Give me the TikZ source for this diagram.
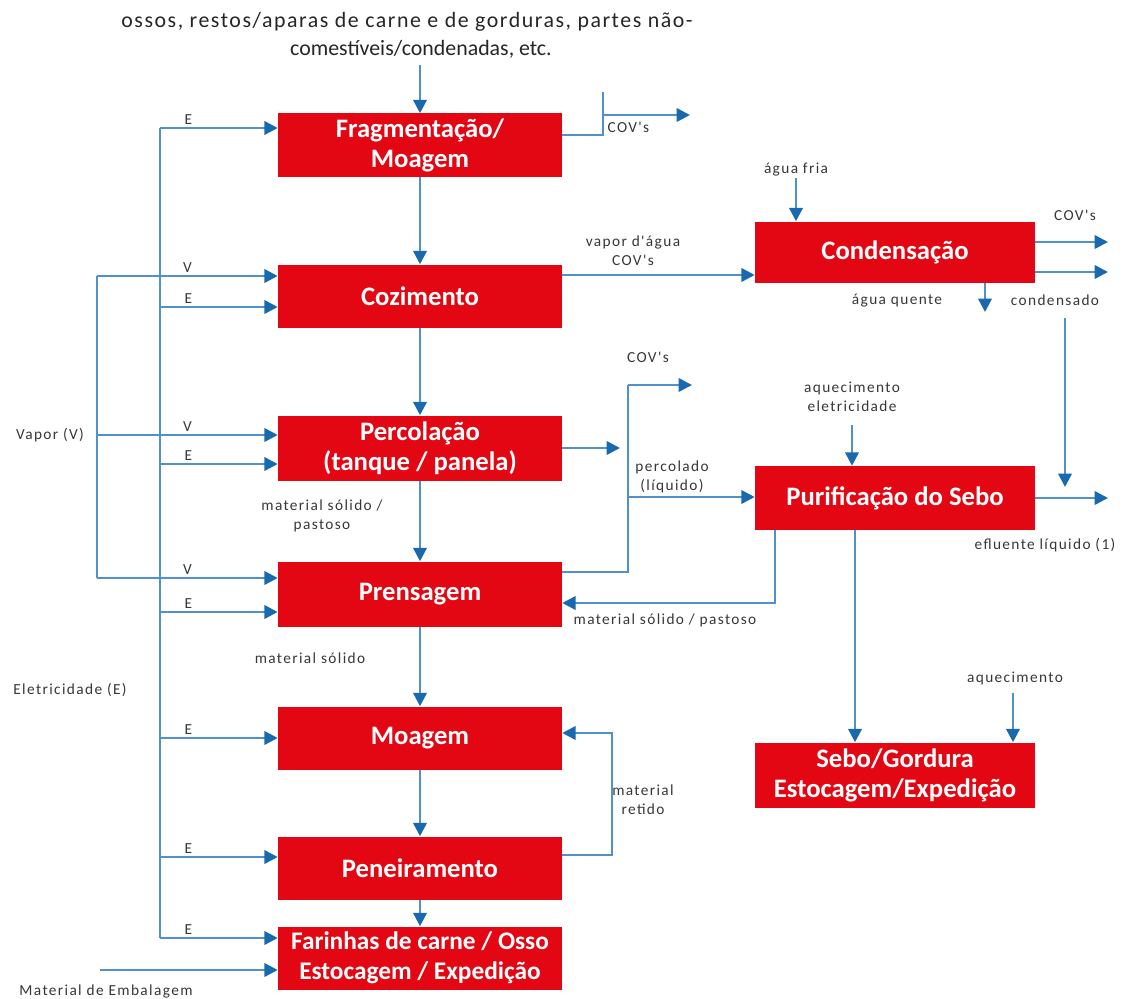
\documentclass[tikz,border=0pt]{standalone}
\usepackage{fontspec}
\setmainfont{Carlito}
\newfontfamily\lblfont[LetterSpace=9]{Carlito}
\newfontfamily\topwide[LetterSpace=7]{Carlito}
\usetikzlibrary{arrows.meta}
\definecolor{boxred}{RGB}{227,6,19}
\definecolor{linkblue}{RGB}{80,145,205}
\definecolor{tipblue}{RGB}{25,105,175}
\definecolor{labelgray}{RGB}{55,55,55}
\tikzset{
 proc/.style={fill=boxred, text=white, font=\fontsize{20}{22.5}\selectfont\bfseries, minimum width=213pt, minimum height=47.25pt, inner sep=0pt, align=center},
 flow/.style={draw=linkblue, line width=1.9pt, -{Triangle[length=10pt,width=10pt,color=tipblue]}},
 wire/.style={draw=linkblue, line width=1.9pt},
 lbl/.style={font=\lblfont\fontsize{11.5}{14}\selectfont, text=labelgray, inner sep=1pt, align=center},
 toptxt/.style={font=\fontsize{16.4}{21}\selectfont, text=black!85, inner sep=0pt, align=center},
}
\begin{document}
\begin{tikzpicture}[x=0.75pt,y=-0.75pt]
\fill[white] (0,0) rectangle (1125,999);
\useasboundingbox (0,0) rectangle (1125,999);

% process boxes
\node[proc] (frag) at (420,145) {Fragmentação/\\Moagem};
\node[proc] (coz) at (420,296) {Cozimento};
\node[proc, minimum height=48.75pt] (perc) at (420,448) {Percolação\\(tanque / panela)};
\node[proc, minimum height=48.75pt] (prens) at (420,594) {Prensagem};
\node[proc] (moag) at (420,738) {Moagem};
\node[proc] (pen) at (420,868) {Peneiramento};
\node[proc, font=\fontsize{19}{22.5}\selectfont\bfseries] (far) at (420,958) {Farinhas de carne / Osso\\Estocagem / Expedição};
\node[proc, minimum width=210pt, minimum height=45.75pt] (cond) at (895,252) {Condensação};
\node[proc, minimum width=210pt, minimum height=48pt] (puri) at (895,498) {Purificação do Sebo};
\node[proc, minimum width=210pt, minimum height=48.75pt] (sebo) at (895,775) {Sebo/Gordura\\Estocagem/Expedição};

% top input
\node[toptxt, font=\topwide\fontsize{16.4}{21}\selectfont] (src1) at (407,22) {ossos, restos/aparas de carne e de gorduras, partes não-};
\node[toptxt] (src2) at (421,49) {comestíveis/condenadas, etc.};
\coordinate (srcend) at (420,65);
\draw[flow] (srcend) -- (frag);

% main chain
\draw[flow] (frag) -- (coz);
\draw[flow] (coz) -- (perc);
\draw[flow] (perc) -- (prens);
\draw[flow] (prens) -- (moag);
\draw[flow] (moag) -- (pen);
\draw[flow] (pen) -- (far);

% left labels
\node[lbl] (vap) at (50,435) {Vapor (V)};
\node[lbl] (elet) at (70,690) {Eletricidade (E)};
\node[lbl] (emb) at (106,991) {Material de Embalagem};

% electricity bus
\coordinate (etop) at (160,128);
\coordinate (ebot) at (160,938);
\draw[wire] (etop) -- (ebot);
\foreach \b/\yy in {frag/128, coz/307, perc/464, prens/612, moag/738, pen/857, far/938}{
  \coordinate (e-\b) at (160,\yy);
  \draw[flow] (e-\b) -- (\b.west |- e-\b) node[lbl, pos=0.24, above=1pt]{E};
}
% vapor bus
\coordinate (vtop) at (97,276);
\coordinate (vbot) at (97,578);
\draw[wire] (vtop) -- (vbot);
\foreach \b/\yy in {coz/276, perc/435, prens/578}{
  \coordinate (v-\b) at (97,\yy);
  \draw[flow] (v-\b) -- (\b.west |- v-\b) node[lbl, pos=0.5, above=1pt]{V};
}
% packaging
\coordinate (embs) at (100,970);
\draw[flow] (embs) -- (far.west |- embs);

% labels on main chain
\node[lbl] (ms1) at (322,516) {material sólido /\\pastoso};
\node[lbl] (ms2) at (310,658) {material sólido};

% fragmentation COV's
\coordinate (fc1) at (603,135);
\coordinate (fc2) at (603,92);
\coordinate (fc3) at (603,115);
\coordinate (fc4) at (690,115);
\draw[wire] (frag.east |- fc1) -- (fc1) -- (fc2);
\draw[flow] (fc3) -- (fc4);
\node[lbl, anchor=west] (fcl) at (606,127) {COV's};

% cozimento -> condensacao
\draw[flow] (coz.east |- 0,275) -- (cond.west |- 0,275);
\node[lbl] (vda) at (633,251) {vapor d'água\\COV's};

% condensacao
\node[lbl] (af) at (796,170) {água fria};
\draw[flow] (af) -- (cond.north -| af);
\coordinate (cv1) at (1108,242);
\coordinate (cv2) at (1108,272);
\draw[flow] (cond.east |- cv1) -- (cv1);
\draw[flow] (cond.east |- cv2) -- (cv2);
\node[lbl] (cvl) at (1075,215) {COV's};
\coordinate (aq) at (985,312);
\draw[flow] (cond.south -| aq) -- (aq);
\node[lbl] (aql) at (897,301) {água quente};
\node[lbl] (cdl) at (1055,300) {condensado};
\coordinate (cd1) at (1065,318);
\coordinate (cd2) at (1065,487);
\draw[flow] (cd1) -- (cd2);

% percolacao / prensagem liquids
\coordinate (pj) at (620,448);
\draw[flow] (perc.east |- pj) -- (pj);
\coordinate (pt) at (628,385);
\coordinate (pb) at (628,572);
\coordinate (pm) at (628,497);
\coordinate (pc) at (692,385);
\draw[wire] (prens.east |- pb) -- (pb) -- (pt);
\draw[flow] (pt) -- (pc);
\draw[flow] (pm) -- (puri.west |- pm);
\node[lbl] (pcl) at (648,357) {COV's};
\node[lbl] (prl) at (672,477) {percolado\\(líquido)};

% purificacao
\node[lbl] (ae) at (852,397) {aquecimento\\eletricidade};
\draw[flow] (ae.south) ++(0,12) -- (puri.north -| ae);
\coordinate (ps1) at (775,603);
\draw[flow] (puri.south -| ps1) -- (ps1) -- (prens.east |- ps1);
\node[lbl] (msp) at (665,620) {material sólido / pastoso};
\draw[flow] (puri.south -| 855,0) -- (sebo.north -| 855,0);
\coordinate (ef) at (1108,498);
\draw[flow] (puri.east |- ef) -- (ef);
\node[lbl] (efl) at (1045,545) {efluente líquido (1)};

% sebo
\node[lbl] (aq2) at (1015,678) {aquecimento};
\coordinate (aq2s) at (1013,693);
\draw[flow] (aq2s) -- (sebo.north -| aq2s);

% moagem loop
\coordinate (ml) at (612,733);
\draw[flow] (pen.east |- 0,855) -- (ml |- 0,855) -- (ml) -- (moag.east |- ml);
\node[lbl] (mrl) at (643,800) {material\\retido};
\end{tikzpicture}
\end{document}
